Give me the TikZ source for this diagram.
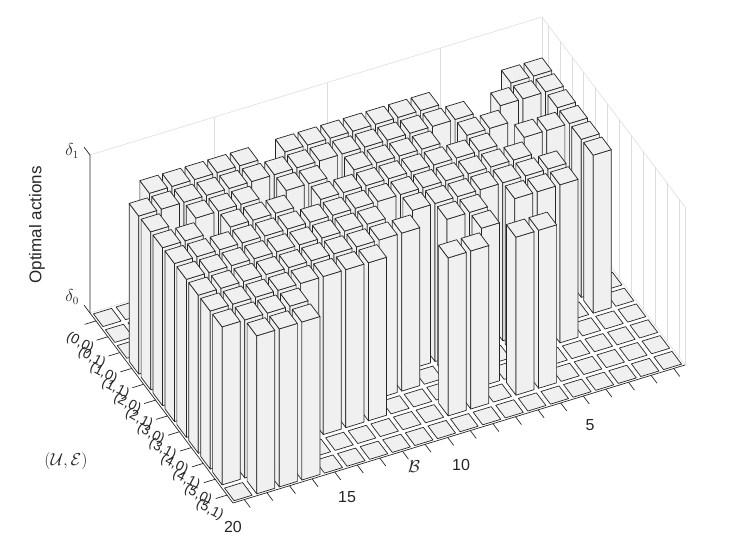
\documentclass[tikz,border=0pt]{standalone}
\usepackage{fontspec}
\setmainfont{Liberation Sans}
\begin{document}
\begin{tikzpicture}[x=1pt,y=-1pt,
  face/.style={fill=black!6,draw=black!85,line width=0.7pt,line join=round},
  wall/.style={draw=black!13,line width=0.6pt},
  axis/.style={draw=black!85,line width=0.7pt},
  lab/.style={font=\fontsize{14}{14}\selectfont,text=black!85}]
\useasboundingbox (0,0) rectangle (747,544);
\newcommand\mybar[2]{%
  \filldraw[face] (#1+0.4,#2-0.4,0) -- (#1+0.4,#2+0.4,0) -- (#1+0.4,#2+0.4,1) -- (#1+0.4,#2-0.4,1) -- cycle;
  \filldraw[face] (#1+0.4,#2+0.4,0) -- (#1-0.4,#2+0.4,0) -- (#1-0.4,#2+0.4,1) -- (#1+0.4,#2+0.4,1) -- cycle;
  \filldraw[face] (#1+0.4,#2-0.4,1) -- (#1+0.4,#2+0.4,1) -- (#1-0.4,#2+0.4,1) -- (#1-0.4,#2-0.4,1) -- cycle;}
\newcommand\mytile[2]{%
  \filldraw[face] (#1+0.4,#2-0.4,0) -- (#1+0.4,#2+0.4,0) -- (#1-0.4,#2+0.4,0) -- (#1-0.4,#2-0.4,0) -- cycle;}
\begin{scope}[shift={(559.26,179.47)},x={(-22.6pt,-6.9pt)},y={(11.917pt,-15.833pt)},z={(0pt,158pt)}]
  % walls
  \draw[wall] (20.5,-0.5,1) -- (0.5,-0.5,1) -- (0.5,11.5,1);
  \draw[wall] (20.5,-0.5,0) -- (0.5,-0.5,0) -- (0.5,11.5,0);
  \draw[wall] (0.5,-0.5,0) -- (0.5,-0.5,1);
  \foreach \b in {5,10,15} \draw[wall] (\b,-0.5,0) -- (\b,-0.5,1);
  \foreach \u in {0,...,11} \draw[wall] (0.5,\u,0) -- (0.5,\u,1);
  \draw[wall] (0.5,11.5,0) -- (0.5,11.5,1);
  \foreach \b in {5,10,15,20} \draw[wall] (\b,-0.5,0) -- (\b,11.5,0);
  \foreach \u in {0,...,11} \draw[wall] (0.5,\u,0) -- (20.5,\u,0);
  % axes
  \coordinate (zb) at (20.5,-0.5,0);
  \coordinate (zt) at (20.5,-0.5,1);
  \coordinate (fc) at (20.5,11.5,0);
  \coordinate (rc) at (0.5,11.5,0);
  \draw[axis] (zt) -- (zb) -- (fc) -- (rc);
  \draw[axis] (zb) -- (20.5,-1.0,0);
  \draw[axis] (zt) -- (20.5,-1.0,1);
  \foreach \u in {0,...,11} \draw[axis] (20.5,\u,0) -- (21.0,\u,0);
  \foreach \b in {1,...,20} \draw[axis] (\b,11.5,0) -- (\b,12.0,0);
  % bars
  \foreach \row [count=\uu from 0] in {
   {0,0,0,0,0,0,0,0,0,0,0,0,0,0,0,0,0,0,0,0},
   {0,0,0,0,0,0,0,0,0,0,0,0,0,0,0,0,0,0,0,0},
   {0,1,1,0,0,0,1,1,1,1,1,1,1,0,1,1,1,1,1,0},
   {0,1,1,1,0,1,1,1,1,1,1,1,1,1,1,1,1,1,1,1},
   {0,1,0,0,1,1,0,1,1,1,1,0,1,1,0,1,1,1,0,1},
   {0,1,1,1,0,1,1,1,1,1,1,1,1,0,1,1,1,0,1,1},
   {0,1,0,0,1,1,1,1,1,1,1,1,1,1,1,1,1,1,1,1},
   {0,1,0,1,1,1,1,1,1,1,0,1,1,1,1,1,1,1,1,1},
   {0,0,0,1,1,1,0,1,1,0,1,1,1,1,1,1,1,1,1,1},
   {0,0,0,0,0,0,0,1,0,0,0,0,1,1,1,1,1,1,1,1},
   {0,0,0,0,0,1,1,0,1,1,0,0,0,0,0,0,1,1,1,1},
   {0,0,0,0,0,0,0,0,0,0,0,0,0,0,0,0,1,1,1,0}}{
    \foreach \v [count=\b] in \row {
      \ifnum\v=1 \mybar{\b}{\uu}\else\mytile{\b}{\uu}\fi
    }
  }
\end{scope}
% labels
\node[lab,font=\fontsize{17}{17}\selectfont,rotate=90] (ylab) at (37,225) {Optimal actions};
\node[lab,font=\fontsize{16}{16}\selectfont] (d1) at (72,151) {$\delta_1$};
\node[lab,font=\fontsize{16}{16}\selectfont] (d0) at (72,297) {$\delta_0$};
\node[lab,font=\fontsize{16}{16}\selectfont] (b5) at (590,425) {5};
\node[lab,font=\fontsize{16}{16}\selectfont] (b10) at (461,465) {10};
\node[lab,font=\fontsize{16}{16}\selectfont] (b15) at (347,497) {15};
\node[lab,font=\fontsize{16}{16}\selectfont] (b20) at (233,527) {20};
\node[lab,font=\fontsize{16}{16}\selectfont] (blab) at (414,467) {$\mathcal{B}$};
\node[lab,font=\fontsize{16}{16}\selectfont] (ulab) at (66,461) {$(\mathcal{U},\mathcal{E})$};
\foreach \t [count=\i from 0] in {(0,0),(0,1),(1,0),(1,1),(2,0),(2,1),(3,0),(3,1),(4,0),(4,1),(5,0),(5,1)}
  \node[lab,rotate=-28] (u\i) at ({80+11.8*\i},{343+15.2*\i}) {\t};
\end{tikzpicture}
\end{document}
